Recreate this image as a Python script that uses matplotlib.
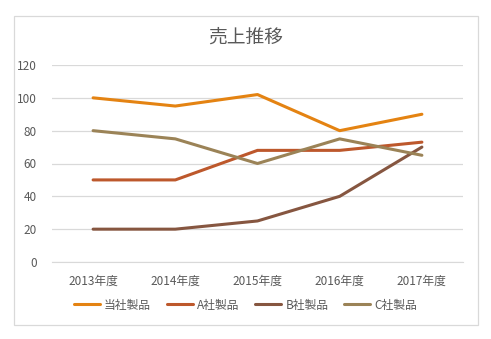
import matplotlib
matplotlib.use("Agg")
import matplotlib.pyplot as plt
from matplotlib.patches import Rectangle

plt.rcParams['font.family'] = ['Noto Sans CJK JP', 'DejaVu Sans']

# data
years = ['2013年度', '2014年度', '2015年度', '2016年度', '2017年度']
ours = [100, 95, 102, 80, 90]
comp_a = [50, 50, 68, 68, 73]
comp_b = [20, 20, 25, 40, 70]
comp_c = [80, 75, 60, 75, 65]
names = ['当社製品', 'A社製品', 'B社製品', 'C社製品']
colors = ['#E48312', '#BD582C', '#865640', '#9B8357']

text_col = '#595959'
grid_col = '#D9D9D9'

fig = plt.figure(figsize=(4.91, 3.39), dpi=100)
ax = fig.add_axes([52/491, 1 - 262/339, 411/491, 197/339])

x = range(len(years))
for vals, name, c in zip([ours, comp_a, comp_b, comp_c], names, colors):
    ax.plot(x, vals, color=c, lw=2.2, label=name, solid_capstyle='round')

ax.set_xlim(-0.5, len(years) - 0.5)
ax.set_ylim(0, 120)
ax.set_yticks(range(0, 121, 20))
ax.set_xticks(list(x))
ax.set_xticklabels(years)
ax.grid(axis='y', color=grid_col, lw=0.9)
ax.set_axisbelow(True)
for s in ['top', 'right', 'left']:
    ax.spines[s].set_visible(False)
ax.spines['bottom'].set_color(grid_col)
ax.tick_params(length=0, colors=text_col, labelsize=8.5)
ax.tick_params(axis='y', pad=11)
ax.tick_params(axis='x', pad=9)

fig.text(0.5, 1 - 37/339, '売上推移', ha='center', va='center',
         fontsize=13.5, color=text_col)

fig.legend(loc='center', bbox_to_anchor=(0.5, 1 - 305/339), ncol=4,
           frameon=False, fontsize=8.5, labelcolor=text_col,
           handlelength=2.2, handletextpad=0.35, columnspacing=1.35)

fig.patches.append(Rectangle((14/491, 1 - 325/339), 464/491, 309/339,
                             transform=fig.transFigure, fill=False,
                             edgecolor=grid_col, lw=0.9))

fig.savefig('out.png', dpi=100)
